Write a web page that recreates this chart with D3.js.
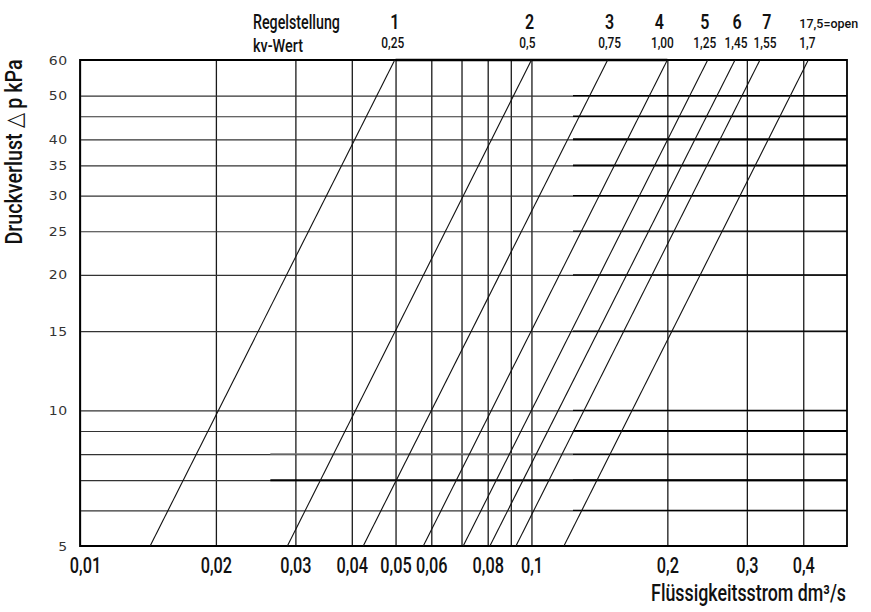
<!DOCTYPE html>
<html>
<head>
<meta charset="utf-8">
<script src="https://cdn.jsdelivr.net/npm/d3@7"></script>
<style>
  body { margin: 0; background: #fff; }
  svg { display: block; }
</style>
</head>
<body>
<svg id="chart" width="871" height="612"></svg>
<script>
// Valve presetting positions and their kv values
const settings = ["1", "2", "3", "4", "5", "6", "7", "17,5=open"];
const kvLabels = ["0,25", "0,5", "0,75", "1,00", "1,25", "1,45", "1,55", "1,7"];

// Flow rate (dm³/s) where each setting's curve crosses 5 kPa and 60 kPa
const flowAt5kPa  = [0.0143, 0.0288, 0.0424, 0.0576, 0.0706, 0.0809, 0.0924, 0.1180];
const flowAt60kPa = [0.0498, 0.1000, 0.1475, 0.2000, 0.2457, 0.2824, 0.3207, 0.4104];

// Grid and tick values
const flowGrid = [0.01, 0.02, 0.03, 0.04, 0.05, 0.06, 0.07, 0.08, 0.09, 0.1, 0.2, 0.3, 0.4];
const flowTicks = [0.01, 0.02, 0.03, 0.04, 0.05, 0.06, 0.08, 0.1, 0.2, 0.3, 0.4];
const flowTickLabels = ["0,01", "0,02", "0,03", "0,04", "0,05", "0,06", "0,08", "0,1", "0,2", "0,3", "0,4"];
const pressureGrid = [5, 6, 7, 8, 9, 10, 15, 20, 25, 30, 35, 40, 45, 50, 60];
const pressureTicks = [60, 50, 40, 35, 30, 25, 20, 15, 10, 5];
const pressureTickLabels = ["60", "50", "40", "35", "30", "25", "20", "15", "10", "5"];

// ---- layout & style ----
const plotL = 80, plotR = 847, plotT = 60, plotB = 546;
const condFont = "Roboto, 'Liberation Sans', sans-serif";
const settingDx = [0, -2, 2, -8, -3, 2, 7, -9];
const kvDx = [-2, -4, 2, -5, -3, 1, 5, -9];

const svg = d3.select("#chart");

const x = d3.scaleLog().domain([0.01, 0.5]).range([plotL, plotR]);
const y = d3.scaleLog().domain([5, 60]).range([plotB, plotT]);

// squeeze a text horizontally so it spans the given width
function fitWidth(t, w) {
  const n = t.node().getComputedTextLength();
  const base = t.attr("transform") || "";
  t.attr("transform", `${base} scale(${w / n},1)`);
  return t;
}

// vertical grid
svg.append("g")
  .attr("transform", `translate(0,${plotB})`)
  .call(d3.axisBottom(x).tickValues(flowGrid).tickSize(-(plotB - plotT)).tickFormat(""))
  .call(g => g.select(".domain").remove())
  .selectAll("line")
  .attr("stroke", "#1a1a1a")
  .attr("stroke-width", 1.3);

// horizontal grid
svg.append("g")
  .attr("transform", `translate(${plotL},0)`)
  .call(d3.axisLeft(y).tickValues(pressureGrid).tickSize(-(plotR - plotL)).tickFormat(""))
  .call(g => g.select(".domain").remove())
  .selectAll("line")
  .attr("stroke", "#333")
  .attr("stroke-width", 1.15);

// darker right-hand portions of the horizontal rules
const darkFrom = 0.1236;
const heavy = new Set([40, 35, 9]);
svg.append("g").selectAll("line")
  .data(pressureGrid.filter(p => p > 5 && p < 60))
  .join("line")
  .attr("x1", x(darkFrom)).attr("x2", plotR)
  .attr("y1", d => y(d)).attr("y2", d => y(d))
  .attr("stroke", "#000")
  .attr("stroke-width", d => heavy.has(d) ? 1.9 : 1.3);
svg.append("line")
  .attr("x1", x(0.0264)).attr("x2", plotR)
  .attr("y1", y(7)).attr("y2", y(7))
  .attr("stroke", "#000").attr("stroke-width", 1.9);
svg.append("line")
  .attr("x1", x(0.0264)).attr("x2", x(darkFrom))
  .attr("y1", y(8)).attr("y2", y(8))
  .attr("stroke", "#777").attr("stroke-width", 1.5);

// frame
svg.append("path")
  .attr("d", `M${plotL},${plotT}H${plotR}V${plotB}H${plotL}Z`)
  .attr("fill", "none").attr("stroke", "#000").attr("stroke-width", 1.8);
svg.append("line")
  .attr("x1", x(0.05)).attr("x2", x(0.2))
  .attr("y1", plotT).attr("y2", plotT)
  .attr("stroke", "#000").attr("stroke-width", 2.6);

// presetting curves
const line = d3.line().x(d => x(d[0])).y(d => y(d[1]));
svg.append("g").selectAll("path")
  .data(settings.map((s, i) => [[flowAt5kPa[i], 5], [flowAt60kPa[i], 60]]))
  .join("path")
  .attr("d", line)
  .attr("fill", "none")
  .attr("stroke", "#111")
  .attr("stroke-width", 1.1);

// x tick labels
svg.append("g")
  .attr("transform", `translate(0,${plotB})`)
  .call(d3.axisBottom(x).tickValues(flowTicks).tickSize(0)
    .tickFormat((d, i) => flowTickLabels[i]))
  .call(g => g.select(".domain").remove())
  .selectAll("text")
  .attr("y", 0).attr("dy", null)
  .attr("fill", "#111")
  .attr("font-family", condFont)
  .attr("font-weight", 500)
  .attr("font-size", 22)
  .attr("transform", (d, i) => `translate(${i === 0 ? 5 : 0},27) scale(0.74,1)`);

// y tick labels
svg.append("g")
  .attr("transform", `translate(${plotL},0)`)
  .call(d3.axisLeft(y).tickValues(pressureTicks).tickSize(0)
    .tickFormat((d, i) => pressureTickLabels[i]))
  .call(g => g.select(".domain").remove())
  .selectAll("text")
  .attr("x", 0).attr("dy", "0.35em")
  .attr("fill", "#333")
  .attr("font-family", "'DejaVu Sans', sans-serif")
  .attr("font-size", 11.5)
  .attr("letter-spacing", 0.6)
  .attr("transform", "translate(-12,0) scale(1.22,1)");

// header: presetting and kv values
function condText(str, tx, ty, opts) {
  const t = svg.append("text")
    .attr("transform", `translate(${tx},${ty})`)
    .attr("text-anchor", opts.anchor || "middle")
    .attr("font-family", condFont)
    .attr("font-weight", opts.weight || 500)
    .attr("font-size", opts.size)
    .attr("fill", "#111")
    .text(str);
  if (opts.len) fitWidth(t, opts.len);
  else t.attr("transform", `translate(${tx},${ty}) scale(${opts.sx || 1},1)`);
  return t;
}

condText("Regelstellung", 253, 29, { size: 20, anchor: "start", len: 87 });
condText("kv-Wert", 253, 52, { size: 19, anchor: "start", len: 50 });

settings.forEach((s, i) => {
  const last = i === settings.length - 1;
  const sx = x(flowAt60kPa[i]) + settingDx[i];
  if (last) {
    condText(s, sx, 28, { size: 13, weight: 500, anchor: "start", len: 59 });
  } else {
    condText(s, sx, 29, { size: 20, weight: 600, sx: 0.8 });
  }
  condText(kvLabels[i], x(flowAt60kPa[i]) + kvDx[i], 48,
    { size: 14, weight: 500, anchor: last ? "start" : "middle", sx: 0.85 });
});

// axis titles
const yTitle = svg.append("text")
  .attr("transform", "translate(22,152) rotate(-90)")
  .attr("text-anchor", "middle")
  .attr("font-family", condFont)
  .attr("font-weight", 500)
  .attr("font-size", 23)
  .attr("fill", "#111")
  .text("Druckverlust  \u25B3 p kPa");
fitWidth(yTitle, 186);

const xTitle = svg.append("text")
  .attr("transform", "translate(846,601)")
  .attr("text-anchor", "end")
  .attr("font-family", condFont)
  .attr("font-weight", 500)
  .attr("font-size", 23)
  .attr("fill", "#111")
  .text("Flüssigkeitsstrom dm³/s");
fitWidth(xTitle, 195);
</script>
</body>
</html>
